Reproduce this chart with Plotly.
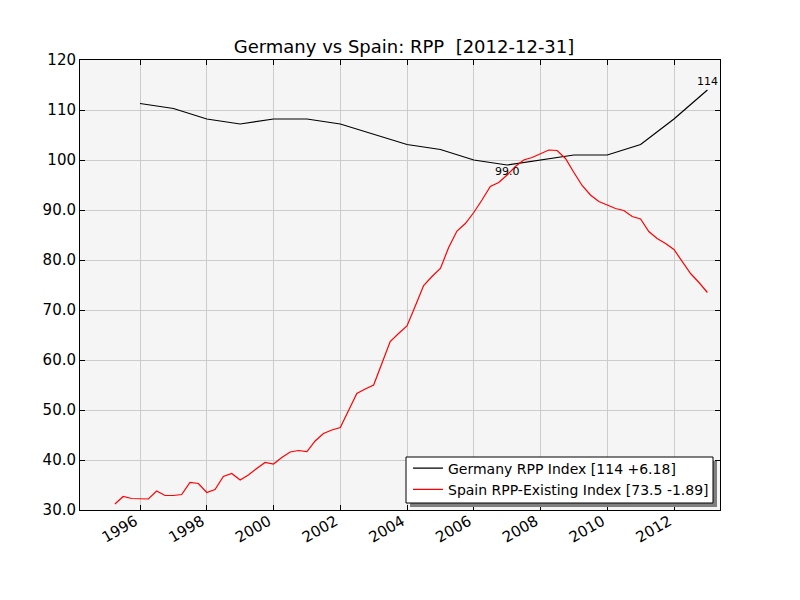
import plotly.graph_objects as go

# Germany annual RPP index (year-end)
ger_dates = [f"{y}-12-31" for y in range(1995, 2013)]
ger_values = [111.3, 110.3, 108.2, 107.2, 108.2, 108.2, 107.2, 105.2, 103.1,
              102.1, 100.0, 99.0, 100.0, 101.0, 101.0, 103.1, 108.2, 114.0]

# Spain quarterly RPP-Existing index (quarter-end)
esp_dates = [f"{y}-{md}" for y in range(1995, 2013)
             for md in ("03-31", "06-30", "09-30", "12-31")]
esp_values = [31.2, 32.7, 32.3, 32.3,
              32.2, 33.8, 32.9, 32.9,
              33.1, 35.5, 35.3, 33.5,
              34.1, 36.7, 37.3, 36.0,
              37.0, 38.3, 39.5, 39.2,
              40.5, 41.6, 41.9, 41.7,
              43.8, 45.3, 46.0, 46.5,
              50.0, 53.3, 54.2, 55.0,
              59.3, 63.7, 65.3, 66.8,
              70.8, 74.9, 76.7, 78.3,
              82.5, 85.8, 87.3, 89.5,
              92.0, 94.7, 95.5, 97.0,
              98.7, 100.0, 100.5, 101.2,
              102.0, 101.9, 100.3, 97.5,
              94.9, 93.0, 91.7, 91.0,
              90.3, 89.9, 88.7, 88.2,
              85.7, 84.3, 83.3, 82.1,
              79.7, 77.3, 75.5, 73.5]

x_tick_vals = [f"{y}-01-01" for y in range(1996, 2013, 2)]
x_tick_text = [str(y) for y in range(1996, 2013, 2)]
y_tick_vals = [30, 40, 50, 60, 70, 80, 90, 100, 110, 120]
y_tick_text = ["30.0", "40.0", "50.0", "60.0", "70.0", "80.0", "90.0", "100", "110", "120"]

legend_names = ["Germany RPP Index [114 +6.18]", "Spain RPP-Existing Index [73.5 -1.89]"]

font = "DejaVu Sans"

# page has an 8px body margin: figure occupies page x 8..800, y 8..600
OFF = 8
W, H = 800 - OFF, 600 - OFF
L, T = 80 - OFF, 60 - OFF
PW, PH = 640, 450
R = W - L - PW
B = H - T - PH

fig = go.Figure()
fig.add_trace(go.Scatter(x=ger_dates, y=ger_values, mode="lines",
                         line=dict(color="black", width=1.2), name=legend_names[0]))
fig.add_trace(go.Scatter(x=esp_dates, y=esp_values, mode="lines",
                         line=dict(color="red", width=1.2), name=legend_names[1]))

# annotations: min and last of Germany
imin = ger_values.index(min(ger_values))
fig.add_annotation(x=ger_dates[imin], y=ger_values[imin], text=f"{ger_values[imin]:.1f}",
                   showarrow=False, yshift=-6, font=dict(family=font, size=11, color="black"))
fig.add_annotation(x=ger_dates[-1], y=ger_values[-1], text=f"{ger_values[-1]:.0f}",
                   showarrow=False, yshift=9, font=dict(family=font, size=11, color="black"))

# legend frame + shadow (page coords converted to paper)
def px_x(x):
    return (x - 80) / PW

def px_y(y):
    return (510 - y) / PH

fig.add_shape(type="rect", xref="paper", yref="paper",
              x0=px_x(410), x1=px_x(717), y0=px_y(507), y1=px_y(461),
              fillcolor="#7f7f7f", line=dict(width=0), layer="above")
fig.add_shape(type="rect", xref="paper", yref="paper",
              x0=px_x(406), x1=px_x(713), y0=px_y(503), y1=px_y(457),
              fillcolor="white", line=dict(color="black", width=1), layer="above")

fig.update_layout(
    width=W, height=H,
    margin=dict(l=L, r=R, t=T, b=B, autoexpand=False),
    paper_bgcolor="white", plot_bgcolor="#f5f5f5",
    title=dict(text="Germany vs Spain: RPP  [2012-12-31]", x=0.5, xanchor="center",
               y=1 - (47 - OFF) / H, yanchor="middle",
               font=dict(family=font, size=18, color="black")),
    font=dict(family=font, size=15, color="black"),
    showlegend=True,
    legend=dict(x=px_x(408), y=px_y(479), xanchor="left", yanchor="middle",
                bgcolor="rgba(0,0,0,0)", borderwidth=0,
                font=dict(family=font, size=14, color="black"),
                tracegroupgap=0, itemwidth=30),
)
fig.update_xaxes(range=["1994-03-14", "2013-05-18"], tickvals=x_tick_vals, ticktext=x_tick_text,
                 tickangle=-30, showgrid=True, gridcolor="#cccccc", gridwidth=1,
                 showline=True, linecolor="black", linewidth=1, mirror="ticks",
                 ticks="inside", ticklen=5, tickcolor="black", zeroline=False,
                 automargin=False, ticklabelshift=-5, ticklabelstandoff=-4,
                 tickfont=dict(family=font, size=15))
fig.update_yaxes(range=[30, 120], tickvals=y_tick_vals, ticktext=y_tick_text,
                 showgrid=True, gridcolor="#cccccc", gridwidth=1,
                 showline=True, linecolor="black", linewidth=1, mirror="ticks",
                 ticks="inside", ticklen=5, tickcolor="black", zeroline=False,
                 automargin=False,
                 tickfont=dict(family=font, size=15))

fig.write_html("out.html")
